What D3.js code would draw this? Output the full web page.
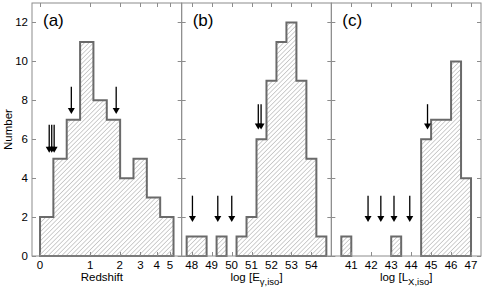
<!DOCTYPE html>
<html>
<head>
<meta charset="utf-8">
<script src="https://cdn.jsdelivr.net/npm/d3@7"></script>
<style>
  body { margin: 0; background: #fff; }
  text { font-family: "Liberation Sans", Arial, sans-serif; fill: #000; }
</style>
</head>
<body>
<svg id="chart" width="485" height="289"></svg>
<script>
// Panel (a): redshift, bins equal in log(1+z)
const zEdges = [0, 0.202, 0.445, 0.738, 1.089, 1.512, 2.020, 2.631, 3.365, 4.248, 5.310];
const zCounts = [2, 5, 7, 11, 8, 7, 4, 5, 3, 2];
const zTicks = [0, 1, 2, 3, 4, 5];
const zArrows = [0.135, 0.175, 0.215, 0.54, 1.86];
const zArrowTop = [6.75, 6.75, 6.75, 8.7, 8.7];
const zArrowTip = [5.3, 5.3, 5.3, 7.3, 7.3];

// Panel (b): log E_gamma,iso
const eEdges = [47.75, 48.25, 48.75, 49.25, 49.75, 50.25, 50.75, 51.25, 51.75, 52.25, 52.75, 53.25, 53.75, 54.25, 54.75];
const eCounts = [1, 1, 0, 1, 0, 1, 2, 6, 9, 11, 12, 9, 5, 1];
const eTicks = [48, 49, 50, 51, 52, 53, 54];
const eArrows = [48.04, 49.31, 50.01, 51.34, 51.48];
const eArrowTop = [3.1, 3.1, 3.1, 7.8, 7.8];
const eArrowTip = [1.75, 1.75, 1.75, 6.5, 6.5];

// Panel (c): log L_X,iso
const lEdges = [40.5, 41, 41.5, 42, 42.5, 43, 43.5, 44, 44.5, 45, 45.5, 46, 46.5, 47];
const lCounts = [1, 0, 0, 0, 0, 1, 0, 0, 6, 7, 7, 10, 4];
const lTicks = [41, 42, 43, 44, 45, 46, 47];
const lArrows = [41.84, 42.48, 43.14, 43.93, 44.82];
const lArrowTop = [3.1, 3.1, 3.1, 3.1, 7.8];
const lArrowTip = [1.75, 1.75, 1.75, 1.75, 6.5];

const yTicks = [0, 2, 4, 6, 8, 10, 12];

const margin = { top: 3, right: 4, bottom: 33, left: 32 };
const W = 485, H = 289;
const plotW = W - margin.left - margin.right;
const panelW = plotW / 3;
const y0 = H - margin.bottom;

const svg = d3.select('#chart');
const frameColor = '#8c8c8c';
const barColor = '#6a6a6a';

// hatch fill
svg.append('defs').append('pattern')
  .attr('id', 'hatch')
  .attr('patternUnits', 'userSpaceOnUse')
  .attr('width', 3.2)
  .attr('height', 3.2)
  .attr('patternTransform', 'rotate(45)')
  .append('line')
  .attr('x1', 0).attr('y1', 0).attr('x2', 0).attr('y2', 3.2)
  .attr('stroke', '#8a8a8a')
  .attr('stroke-width', 0.8);

const y = d3.scaleLinear().domain([0, 13]).range([y0, margin.top]);

const panels = [
  { label: '(a)', edges: zEdges, counts: zCounts, ticks: zTicks, arrows: zArrows, tops: zArrowTop, tips: zArrowTip,
    x: d3.scaleLog().domain([0.895, 7.06]), map: v => 1 + v, title: 'Redshift', titleX: -5 },
  { label: '(b)', edges: eEdges, counts: eCounts, ticks: eTicks, arrows: eArrows, tops: eArrowTop, tips: eArrowTip,
    x: d3.scaleLinear().domain([47.5, 55]), map: v => v, title: ['log [E', '\u03b3,iso', ']'], titleX: 0 },
  { label: '(c)', edges: lEdges, counts: lCounts, ticks: lTicks, arrows: lArrows, tops: lArrowTop, tips: lArrowTip,
    x: d3.scaleLinear().domain([40, 47.5]), map: v => v, title: ['log [L', 'X,iso', ']'], titleX: 0 }
];

panels.forEach((p, i) => {
  const left = margin.left + i * panelW;
  const right = left + panelW;
  p.x.range([left, right]);
  const px = v => p.x(p.map(v));

  const g = svg.append('g');

  // histogram: one outline per run of non-empty bins
  let run = [];
  const runs = [];
  p.counts.forEach((c, k) => {
    if (c > 0) run.push(k);
    else if (run.length) { runs.push(run); run = []; }
  });
  if (run.length) runs.push(run);

  const line = d3.line().x(d => px(d[0])).y(d => y(d[1]));
  runs.forEach(r => {
    const pts = [[p.edges[r[0]], 0]];
    r.forEach(k => {
      pts.push([p.edges[k], p.counts[k]]);
      pts.push([p.edges[k + 1], p.counts[k]]);
    });
    pts.push([p.edges[r[r.length - 1] + 1], 0]);
    g.append('path')
      .attr('d', line(pts) + 'Z')
      .attr('fill', 'url(#hatch)')
      .attr('stroke', barColor)
      .attr('stroke-width', 2)
      .attr('stroke-linejoin', 'miter');
  });

  // frame
  g.append('rect')
    .attr('x', left).attr('y', margin.top)
    .attr('width', panelW).attr('height', y0 - margin.top)
    .attr('fill', 'none')
    .attr('stroke', frameColor)
    .attr('stroke-width', 1);

  // x ticks, bottom and top, pointing inward
  p.ticks.forEach(t => {
    const xx = Math.round(px(t)) + 0.5;
    g.append('line').attr('x1', xx).attr('x2', xx).attr('y1', y0).attr('y2', y0 - 4)
      .attr('stroke', frameColor);
    g.append('line').attr('x1', xx).attr('x2', xx).attr('y1', margin.top).attr('y2', margin.top + 4)
      .attr('stroke', frameColor);
    g.append('text')
      .attr('x', px(t)).attr('y', y0 + 13)
      .attr('text-anchor', 'middle')
      .style('font-size', '11.5px')
      .text(t);
  });

  // y ticks both sides
  yTicks.forEach(t => {
    const yy = Math.round(y(t)) + 0.5;
    g.append('line').attr('x1', left).attr('x2', left + 4).attr('y1', yy).attr('y2', yy)
      .attr('stroke', frameColor);
    g.append('line').attr('x1', right).attr('x2', right - 4).attr('y1', yy).attr('y2', yy)
      .attr('stroke', frameColor);
    if (i === 0) {
      g.append('text')
        .attr('x', left - 4).attr('y', y(t) + 4)
        .attr('text-anchor', 'end')
        .style('font-size', '11.5px')
        .text(t);
    }
  });

  // arrows
  p.arrows.forEach((a, k) => {
    const ax = px(a);
    const yt = y(p.tops[k]);
    const yh = y(p.tips[k]);
    g.append('line')
      .attr('x1', ax).attr('x2', ax)
      .attr('y1', yt).attr('y2', yh - 5)
      .attr('stroke', '#000')
      .attr('stroke-width', 1.3);
    g.append('path')
      .attr('d', `M${ax - 3.5},${yh - 6}L${ax + 3.5},${yh - 6}L${ax},${yh}Z`)
      .attr('fill', '#000');
  });

  // panel label
  g.append('text')
    .attr('x', left + 11).attr('y', 26)
    .style('font-size', '17px')
    .text(p.label);

  // axis title
  const tt = g.append('text')
    .attr('x', (left + right) / 2 + p.titleX)
    .attr('y', y0 + 25)
    .attr('text-anchor', 'middle')
    .style('font-size', '11.5px');
  if (typeof p.title === 'string') {
    tt.text(p.title);
  } else {
    tt.append('tspan').text(p.title[0]);
    tt.append('tspan').attr('dy', 4).style('font-size', '9.5px').text(p.title[1]);
    tt.append('tspan').attr('dy', -4).text(p.title[2]);
  }
});

// y axis title
svg.append('text')
  .attr('transform', `translate(12,${(margin.top + y0) / 2}) rotate(-90)`)
  .attr('text-anchor', 'middle')
  .style('font-size', '11.5px')
  .text('Number');
</script>
</body>
</html>
